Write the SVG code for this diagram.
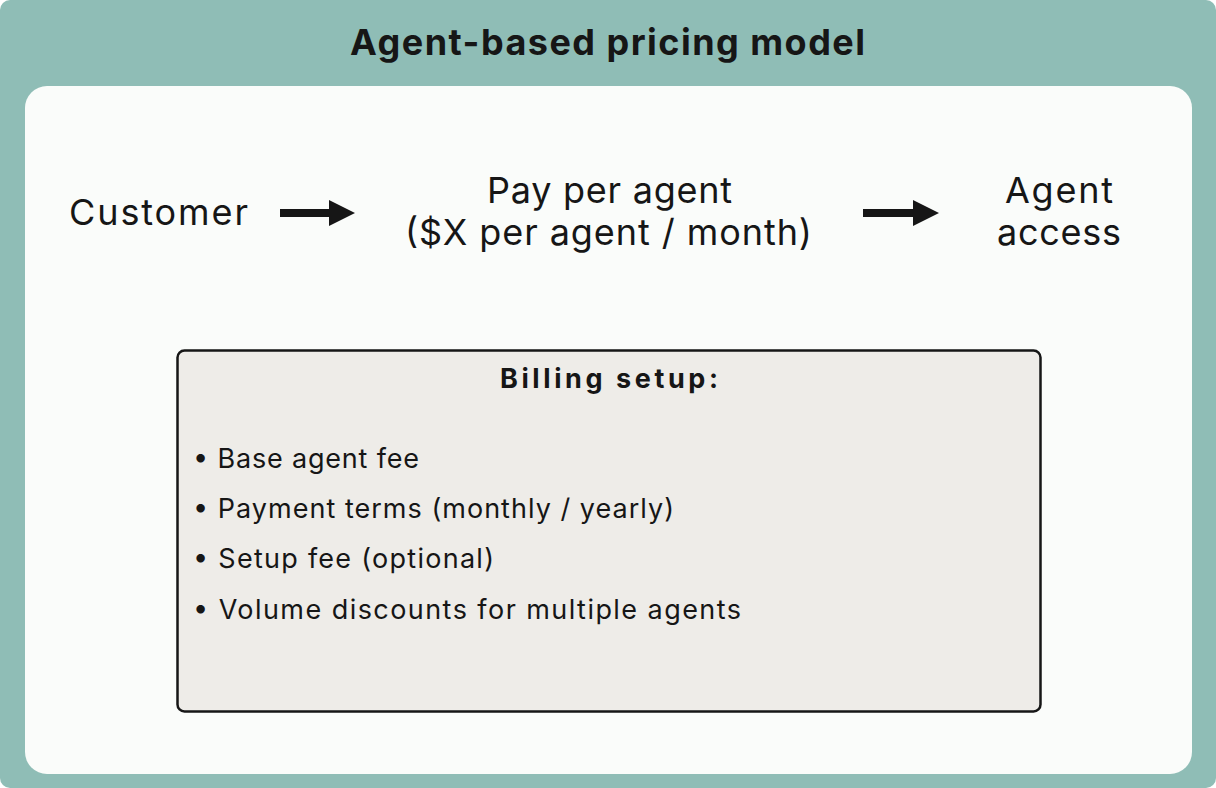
<svg xmlns="http://www.w3.org/2000/svg" width="1216" height="788" viewBox="0 0 1216 788">
<style>
text{font-family:Inter,"Noto Sans","Liberation Sans",sans-serif;fill:#161616}
.t{font-size:36px;font-weight:700}
.m{font-size:36px}
.h{font-size:27px;font-weight:700}
.b{font-size:27px}
.arr{fill:#161616}
</style>
<rect x="0" y="0" width="1216" height="788" rx="10" fill="#8FBDB6"/>
<rect x="25" y="86" width="1167" height="688" rx="22" fill="#FAFCFA"/>
<text class="t" x="350" y="55" textLength="515" lengthAdjust="spacing">Agent-based pricing model</text>
<g id="customer"><text class="m" x="69" y="225" textLength="179" lengthAdjust="spacing">Customer</text></g>
<g id="pay"><text class="m" x="487" y="203" textLength="245" lengthAdjust="spacing">Pay per agent</text><text class="m" x="405" y="245" textLength="407" lengthAdjust="spacing">($X per agent / month)</text></g>
<g id="access"><text class="m" x="1005" y="203" textLength="108" lengthAdjust="spacing">Agent</text><text class="m" x="997" y="245" textLength="124" lengthAdjust="spacing">access</text></g>
<g id="connectors">
<path class="arr" d="M280 209H329V200L355 213L329 226V217H280Z"/>
<path class="arr" d="M863 209H913V200L939 213L913 226V217H863Z"/>
</g>
<g id="billing">
<rect x="177.5" y="350.5" width="863" height="361" rx="7" fill="#EEECE8" stroke="#161616" stroke-width="2.5"/>
<text class="h" x="500" y="388" textLength="218" lengthAdjust="spacing">Billing setup:</text>
<text class="b" x="193" y="468" textLength="226" lengthAdjust="spacing">• Base agent fee</text>
<text class="b" x="193" y="518" textLength="481" lengthAdjust="spacing">• Payment terms (monthly / yearly)</text>
<text class="b" x="193" y="568" textLength="301" lengthAdjust="spacing">• Setup fee (optional)</text>
<text class="b" x="193" y="619" textLength="548" lengthAdjust="spacing">• Volume discounts for multiple agents</text>
</g>
</svg>
